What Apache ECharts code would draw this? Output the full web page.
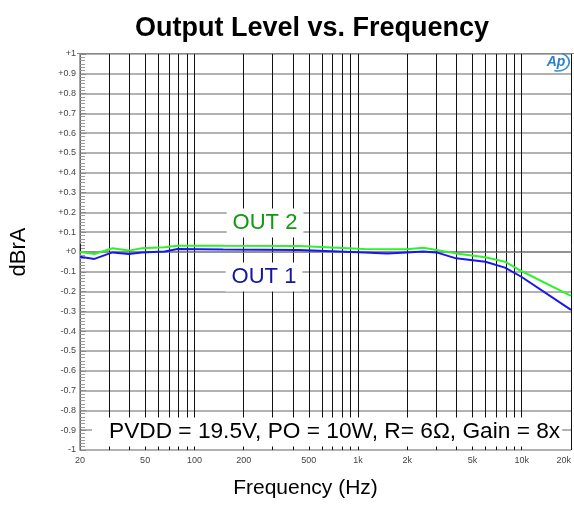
<!DOCTYPE html>
<html>
<head>
<meta charset="utf-8">
<script src="https://cdn.jsdelivr.net/npm/echarts@6/dist/echarts.min.js"></script>
<style>
html,body{margin:0;padding:0;background:#fff;}
#chart{width:574px;height:521px;}
</style>
</head>
<body>
<div id="chart"></div>
<script>
// Frequency (Hz) values for each curve
var freqOut2 = [20, 24.5, 31.6, 39.7, 47.7, 65.8, 79, 150, 436, 1094, 1984, 2500, 3012, 3970, 6000, 7900, 9940, 20000];
var levelOut2 = [0.000, -0.010, 0.019, 0.007, 0.019, 0.024, 0.032, 0.031, 0.030, 0.015, 0.014, 0.022, 0.010, -0.007, -0.027, -0.049, -0.096, -0.222];
var freqOut1 = [20, 24.5, 31.6, 39.7, 47.7, 65.8, 79, 150, 436, 1094, 1510, 1984, 2500, 3012, 3970, 6000, 7900, 9940, 20000];
var levelOut1 = [-0.024, -0.035, -0.002, -0.010, -0.002, 0.002, 0.015, 0.012, 0.010, -0.002, -0.007, -0.002, 0.002, -0.002, -0.032, -0.049, -0.079, -0.125, -0.292];
var xGridValues = [20,30,40,50,60,70,80,90,100,200,300,400,500,600,700,800,900,1000,2000,3000,4000,5000,6000,7000,8000,9000,10000,20000];
var xLabelValues = [20,50,100,200,500,1000,2000,5000,10000,20000];

function pairs(xs, ys){ var out=[]; for(var i=0;i<xs.length;i++){ out.push([xs[i], ys[i]]); } return out; }

var FONT = 'Liberation Sans, Arial, sans-serif';
var chart = echarts.init(document.getElementById('chart'), null, {renderer:'canvas'});
chart.setOption({
  animation:false,
  backgroundColor:'#fff',
  title:{
    text:'Output Level vs. Frequency',
    left:307, top:10, textAlign:'center',
    textStyle:{fontFamily:FONT, fontSize:27, fontWeight:'bold', color:'#000'}
  },
  grid:{left:77, right:-3, top:54, bottom:71, containLabel:false},
  xAxis:{
    type:'log', logBase:10, min:20, max:20000,
    name:'Frequency (Hz)', nameLocation:'middle', nameGap:28,
    nameTextStyle:{fontFamily:FONT, fontSize:21, color:'#000', verticalAlign:'top', padding:[0,40,0,0]},
    axisLine:{show:true, lineStyle:{color:'#888', width:1.5}},
    axisTick:{show:true, inside:true, length:8, customValues:xGridValues, lineStyle:{color:'#222'}},
    axisLabel:{show:true, customValues:xLabelValues, fontFamily:FONT, fontSize:9, color:'#444', margin:6,
      alignMaxLabel:'right',
      formatter:function(v){ return v>=1000 ? (v/1000)+'k' : String(v); }},
    splitLine:{show:true, lineStyle:{color:'#111', width:1}}
  },
  yAxis:{
    type:'value', min:-1, max:1, interval:0.1,
    name:'dBrA', nameLocation:'middle', nameGap:50,
    nameTextStyle:{fontFamily:FONT, fontSize:22, color:'#000'},
    axisLine:{show:true, lineStyle:{color:'#888', width:1.5}},
    axisTick:{show:true, inside:true, length:6, lineStyle:{color:'#888'}},
    minorTick:{show:true, splitNumber:6, length:5, lineStyle:{color:'#999'}},
    axisLabel:{fontFamily:FONT, fontSize:9, color:'#444', margin:4,
      formatter:function(v){ var r=Math.round(v*10)/10; if(r>0) return '+'+r; if(r===0) return '+0'; return String(r); }},
    splitLine:{show:true, lineStyle:{color:'#999', width:1.5}}
  },
  series:[
    {name:'OUT 2', type:'line', data:pairs(freqOut2, levelOut2), symbol:'none', smooth:false,
      lineStyle:{color:'#2ef22e', width:2}, z:3},
    {name:'OUT 1', type:'line', data:pairs(freqOut1, levelOut1), symbol:'none', smooth:false,
      lineStyle:{color:'#1818ee', width:2}, z:4}
  ],
  graphic:[
    {type:'rect', shape:{x:77, y:53, width:500, height:1}, style:{fill:'#888'}, z:50, silent:true},
    {type:'text', x:265, y:223, z:100, style:{text:'OUT 2', fontFamily:FONT, fontSize:22, fill:'#109a10',
      align:'center', verticalAlign:'middle', backgroundColor:'#fff', padding:[4,6,3,6]}},
    {type:'text', x:264, y:277, z:100, style:{text:'OUT 1', fontFamily:FONT, fontSize:22, fill:'#15159e',
      align:'center', verticalAlign:'middle', backgroundColor:'#fff', padding:[4,6,3,6]}},
    {type:'text', x:92, y:432, z:100, style:{text:'PVDD = 19.5V, PO = 10W, R= 6\u03A9, Gain = 8x', fontFamily:FONT, fontSize:22.7, fill:'#000',
      align:'left', verticalAlign:'middle', backgroundColor:'#fff', padding:[3,2,3,17]}},
    {type:'arc', shape:{cx:558, cy:62, r:9, startAngle:-1.2, endAngle:1.9}, style:{fill:'none', stroke:'#3a8fd6', lineWidth:1.4}, scaleX:1.25, originX:558, originY:62, z:100},
    {type:'text', x:556, y:62, z:101, style:{text:'Ap', fontFamily:FONT, fontSize:14, fontStyle:'italic', fontWeight:'bold', fill:'#2a80cc',
      align:'center', verticalAlign:'middle'}}
  ]
});
</script>
</body>
</html>
